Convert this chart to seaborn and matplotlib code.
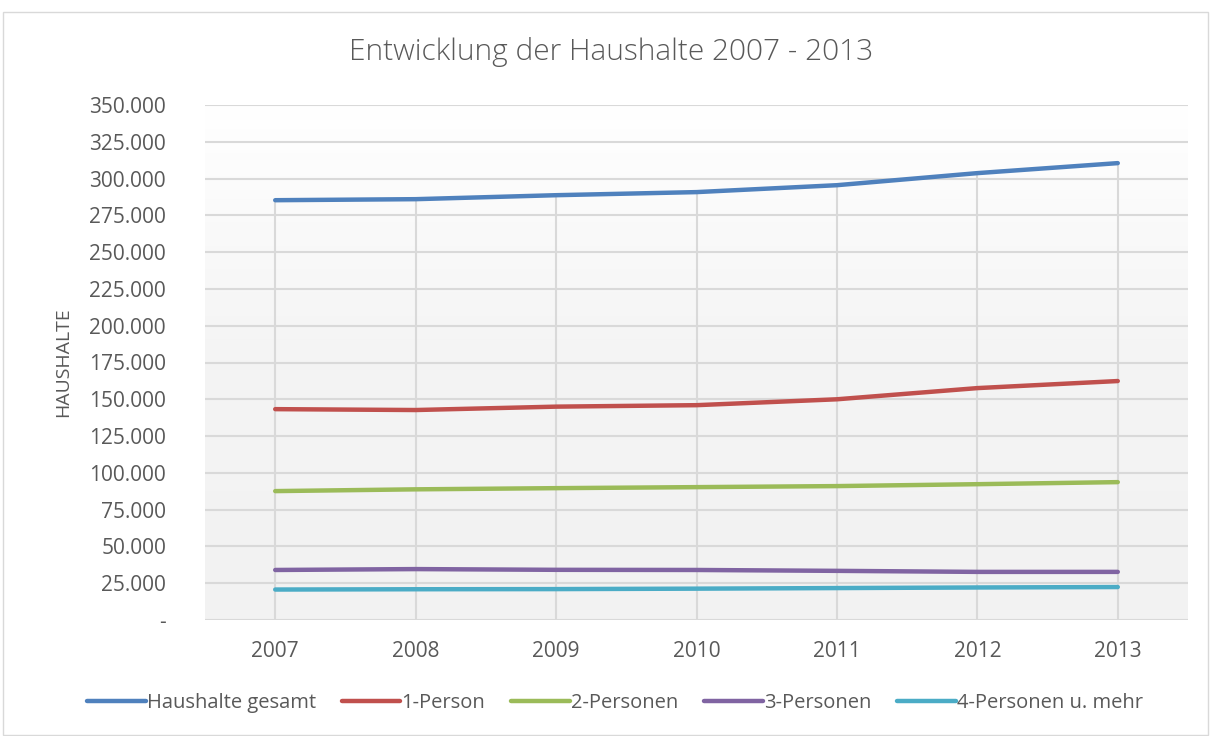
import numpy as np
import pandas as pd
import matplotlib
matplotlib.use("Agg")
import matplotlib.pyplot as plt
import seaborn as sns
from matplotlib.ticker import FuncFormatter, MultipleLocator
from matplotlib.patches import Rectangle

# ========== Data ==========
years = ["2007", "2008", "2009", "2010", "2011", "2012", "2013"]
gesamt = [285300, 286000, 288700, 290800, 295500, 303700, 310500]
person_1 = [143300, 142700, 145000, 146000, 150000, 157600, 162400]
person_2 = [87600, 88800, 89600, 90300, 91000, 92300, 93700]
person_3 = [34000, 34600, 34100, 34000, 33400, 32700, 32700]
person_4 = [20700, 20900, 21000, 21300, 21700, 22100, 22400]

series_names = ["Haushalte gesamt", "1-Person", "2-Personen", "3-Personen", "4-Personen u. mehr"]
colors = ["#4f81bd", "#c0504d", "#9bbb59", "#8064a2", "#4bacc6"]

df = pd.DataFrame({
    "idx": list(range(len(years))) * 5,
    "value": gesamt + person_1 + person_2 + person_3 + person_4,
    "serie": [n for n in series_names for _ in years],
})

# ========== Plot ==========
sns.set_style("white")
plt.rcParams["font.family"] = ["Open Sans", "DejaVu Sans"]
text_col = "#595959"

fig = plt.figure(figsize=(12.12, 7.36), dpi=100)
ax = fig.add_axes([205 / 1212, 1 - 620 / 736, (1188 - 205) / 1212, (620 - 105) / 736])

# gradient background of the plot area (white on top, light grey below)
grad = np.linspace(0, 1, 256).reshape(-1, 1)
cmap = matplotlib.colors.LinearSegmentedColormap.from_list("bg", ["#f2f2f2", "#f4f4f4", "#ffffff"])
ax.imshow(grad, aspect="auto", cmap=cmap, extent=[-0.5, 6.5, 0, 350000],
          origin="lower", zorder=0)

# horizontal gridlines
for v in range(0, 350001, 25000):
    ax.axhline(v, color="#d9d9d9", lw=1.5, zorder=1)

# drop lines from the top series to the axis
ax.vlines(range(len(years)), 0, gesamt, color="#d9d9d9", lw=1.5, zorder=1)

sns.lineplot(data=df, x="idx", y="value", hue="serie", hue_order=series_names,
             palette=colors, linewidth=3.2, ax=ax, zorder=3, legend=False)
for line in ax.lines:
    line.set_solid_capstyle("round")

ax.set_xlim(-0.5, 6.5)
ax.set_ylim(0, 350000)
ax.set_xticks(range(len(years)))
ax.set_xticklabels(years)
ax.yaxis.set_major_locator(MultipleLocator(25000))
ax.yaxis.set_major_formatter(FuncFormatter(
    lambda v, p: "-" if v == 0 else f"{int(v):,}".replace(",", ".")))
ax.tick_params(axis="both", length=0, labelsize=15, colors=text_col)
ax.tick_params(axis="x", pad=15)
ax.tick_params(axis="y", pad=28)
for s in ax.spines.values():
    s.set_visible(False)

ax.set_xlabel("")
ax.set_ylabel("HAUSHALTE", fontsize=14, color=text_col, labelpad=12)

fig.text(611 / 1212, 1 - 52 / 736, "Entwicklung der Haushalte 2007 - 2013",
         ha="center", va="center", fontsize=21.5, color=text_col, fontweight="light")

# legend
handles = [plt.Line2D([], [], color=c, lw=3.2, solid_capstyle="round") for c in colors]
fig.legend(handles, series_names, loc="center", bbox_to_anchor=(615 / 1212, 1 - 703 / 736),
           ncol=5, frameon=False, fontsize=14.5, handlelength=2.9, handletextpad=0.05,
           columnspacing=1.3, labelcolor=text_col)

# outer chart border
fig.patches.append(Rectangle((3 / 1212, 0.002), 1205 / 1212, 1 - 12 / 736 - 0.002,
                             transform=fig.transFigure, fill=False,
                             edgecolor="#d9d9d9", lw=1))

fig.savefig("out.png", dpi=100)
